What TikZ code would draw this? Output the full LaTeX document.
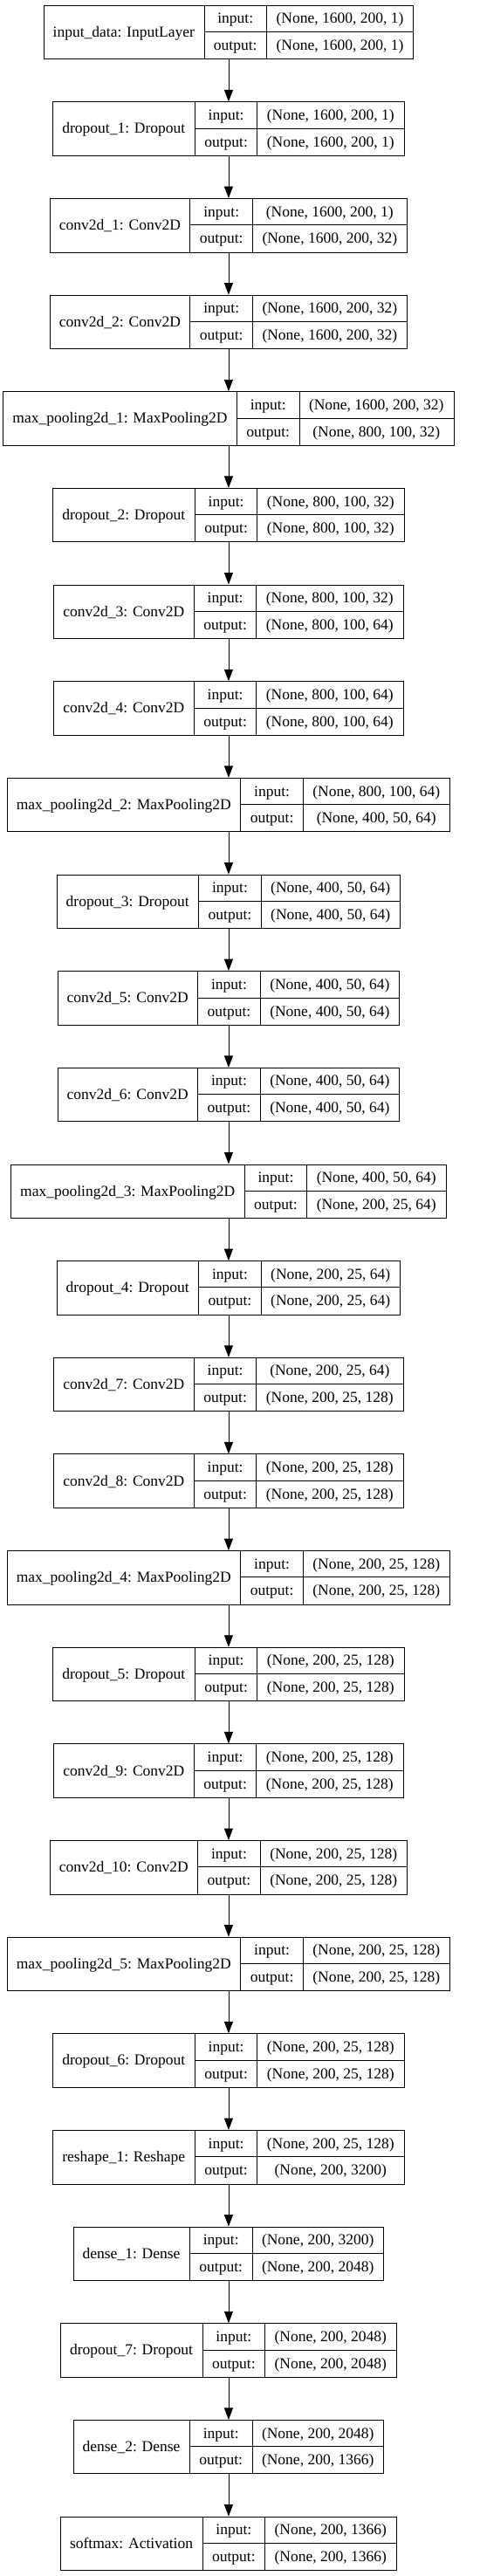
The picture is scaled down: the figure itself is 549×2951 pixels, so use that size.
\documentclass[tikz,border=0pt]{standalone}
\usepackage{fontspec}
\setmainfont{Liberation Serif}
\usetikzlibrary{arrows.meta}
\newlength\wl \newlength\wio \newlength\wv \newlength\wtmp
\newcommand\lf{\fontsize{17.5}{21}\selectfont}
\tikzset{
  box/.style={draw=black, line width=0.9pt, rectangle, inner sep=0pt, anchor=north west},
  sep/.style={draw=black, line width=0.9pt},
  txt/.style={inner sep=0pt, anchor=base, font=\lf},
  arr/.style={draw=black, line width=0.9pt, -{Triangle[length=13.5pt,width=10pt]}}
}
\makeatletter
% measuring pass (outside the picture)
\newcommand\measurelayer[5]{%
  \settowidth\wl{\lf #3}\addtolength\wl{22pt}%
  \settowidth\wio{\lf output:}\addtolength\wio{22pt}%
  \settowidth\wv{\lf #4}\settowidth\wtmp{\lf #5}%
  \ifdim\wtmp>\wv \wv=\wtmp\fi\addtolength\wv{22pt}%
  \expandafter\xdef\csname WL#1\endcsname{\strip@pt\wl}%
  \expandafter\xdef\csname WI#1\endcsname{\strip@pt\wio}%
  \expandafter\xdef\csname WV#1\endcsname{\strip@pt\wv}%
}
\makeatother
% drawing pass (inside the picture)
\newcommand\drawlayer[5]{%
  \pgfmathsetmacro\ytop{-5.7-#2*110.65}%
  \edef\cwl{\csname WL#1\endcsname}\edef\cwi{\csname WI#1\endcsname}\edef\cwv{\csname WV#1\endcsname}%
  \pgfmathsetmacro\wtot{\cwl+\cwi+\cwv}%
  \pgfmathsetmacro\xl{261.5-\wtot/2}%
  \pgfmathsetmacro\xa{\xl+\cwl}%
  \pgfmathsetmacro\xb{\xa+\cwi}%
  \pgfmathsetmacro\xr{\xl+\wtot}%
  \pgfmathsetmacro\ybot{\ytop-61.5}%
  \pgfmathsetmacro\ymid{\ytop-30.75}%
  \pgfmathsetmacro\xlc{(\xl+\xa)/2}%
  \pgfmathsetmacro\xic{(\xa+\xb)/2}%
  \pgfmathsetmacro\xvc{(\xb+\xr)/2}%
  \pgfmathsetmacro\yla{\ytop-36.6}%
  \pgfmathsetmacro\yia{\ytop-21.1}%
  \pgfmathsetmacro\yoa{\ytop-51.8}%
  \node[box, minimum width=\wtot pt, minimum height=61.5pt] (#1) at (\xl pt,\ytop pt) {};
  \draw[sep] (\xa pt,\ytop pt) -- (\xa pt,\ybot pt);
  \draw[sep] (\xb pt,\ytop pt) -- (\xb pt,\ybot pt);
  \draw[sep] (\xa pt,\ymid pt) -- (\xr pt,\ymid pt);
  \node[txt] (#1-l) at (\xlc pt,\yla pt) {#3};
  \node[txt] (#1-i) at (\xic pt,\yia pt) {input:};
  \node[txt] (#1-o) at (\xic pt,\yoa pt) {output:};
  \node[txt] (#1-vi) at (\xvc pt,\yia pt) {#4};
  \node[txt] (#1-vo) at (\xvc pt,\yoa pt) {#5};
}
\newcommand\alllayers{%
\layer{n0}{0}{input\_data: InputLayer}{(None, 1600, 200, 1)}{(None, 1600, 200, 1)}
\layer{n1}{1}{dropout\_1: Dropout}{(None, 1600, 200, 1)}{(None, 1600, 200, 1)}
\layer{n2}{2}{conv2d\_1: Conv2D}{(None, 1600, 200, 1)}{(None, 1600, 200, 32)}
\layer{n3}{3}{conv2d\_2: Conv2D}{(None, 1600, 200, 32)}{(None, 1600, 200, 32)}
\layer{n4}{4}{max\_pooling2d\_1: MaxPooling2D}{(None, 1600, 200, 32)}{(None, 800, 100, 32)}
\layer{n5}{5}{dropout\_2: Dropout}{(None, 800, 100, 32)}{(None, 800, 100, 32)}
\layer{n6}{6}{conv2d\_3: Conv2D}{(None, 800, 100, 32)}{(None, 800, 100, 64)}
\layer{n7}{7}{conv2d\_4: Conv2D}{(None, 800, 100, 64)}{(None, 800, 100, 64)}
\layer{n8}{8}{max\_pooling2d\_2: MaxPooling2D}{(None, 800, 100, 64)}{(None, 400, 50, 64)}
\layer{n9}{9}{dropout\_3: Dropout}{(None, 400, 50, 64)}{(None, 400, 50, 64)}
\layer{n10}{10}{conv2d\_5: Conv2D}{(None, 400, 50, 64)}{(None, 400, 50, 64)}
\layer{n11}{11}{conv2d\_6: Conv2D}{(None, 400, 50, 64)}{(None, 400, 50, 64)}
\layer{n12}{12}{max\_pooling2d\_3: MaxPooling2D}{(None, 400, 50, 64)}{(None, 200, 25, 64)}
\layer{n13}{13}{dropout\_4: Dropout}{(None, 200, 25, 64)}{(None, 200, 25, 64)}
\layer{n14}{14}{conv2d\_7: Conv2D}{(None, 200, 25, 64)}{(None, 200, 25, 128)}
\layer{n15}{15}{conv2d\_8: Conv2D}{(None, 200, 25, 128)}{(None, 200, 25, 128)}
\layer{n16}{16}{max\_pooling2d\_4: MaxPooling2D}{(None, 200, 25, 128)}{(None, 200, 25, 128)}
\layer{n17}{17}{dropout\_5: Dropout}{(None, 200, 25, 128)}{(None, 200, 25, 128)}
\layer{n18}{18}{conv2d\_9: Conv2D}{(None, 200, 25, 128)}{(None, 200, 25, 128)}
\layer{n19}{19}{conv2d\_10: Conv2D}{(None, 200, 25, 128)}{(None, 200, 25, 128)}
\layer{n20}{20}{max\_pooling2d\_5: MaxPooling2D}{(None, 200, 25, 128)}{(None, 200, 25, 128)}
\layer{n21}{21}{dropout\_6: Dropout}{(None, 200, 25, 128)}{(None, 200, 25, 128)}
\layer{n22}{22}{reshape\_1: Reshape}{(None, 200, 25, 128)}{(None, 200, 3200)}
\layer{n23}{23}{dense\_1: Dense}{(None, 200, 3200)}{(None, 200, 2048)}
\layer{n24}{24}{dropout\_7: Dropout}{(None, 200, 2048)}{(None, 200, 2048)}
\layer{n25}{25}{dense\_2: Dense}{(None, 200, 2048)}{(None, 200, 1366)}
\layer{n26}{26}{softmax: Activation}{(None, 200, 1366)}{(None, 200, 1366)}
}
\begin{document}
\let\layer\measurelayer
\alllayers
\begin{tikzpicture}
\useasboundingbox[fill=white] (0,0) rectangle (549pt,-2951pt);
\let\layer\drawlayer
\alllayers
\foreach \i [evaluate=\i as \j using int(\i+1)] in {0,...,25} {
  \draw[arr] (n\i.south) -- (n\j.north);
}
\end{tikzpicture}
\end{document}
